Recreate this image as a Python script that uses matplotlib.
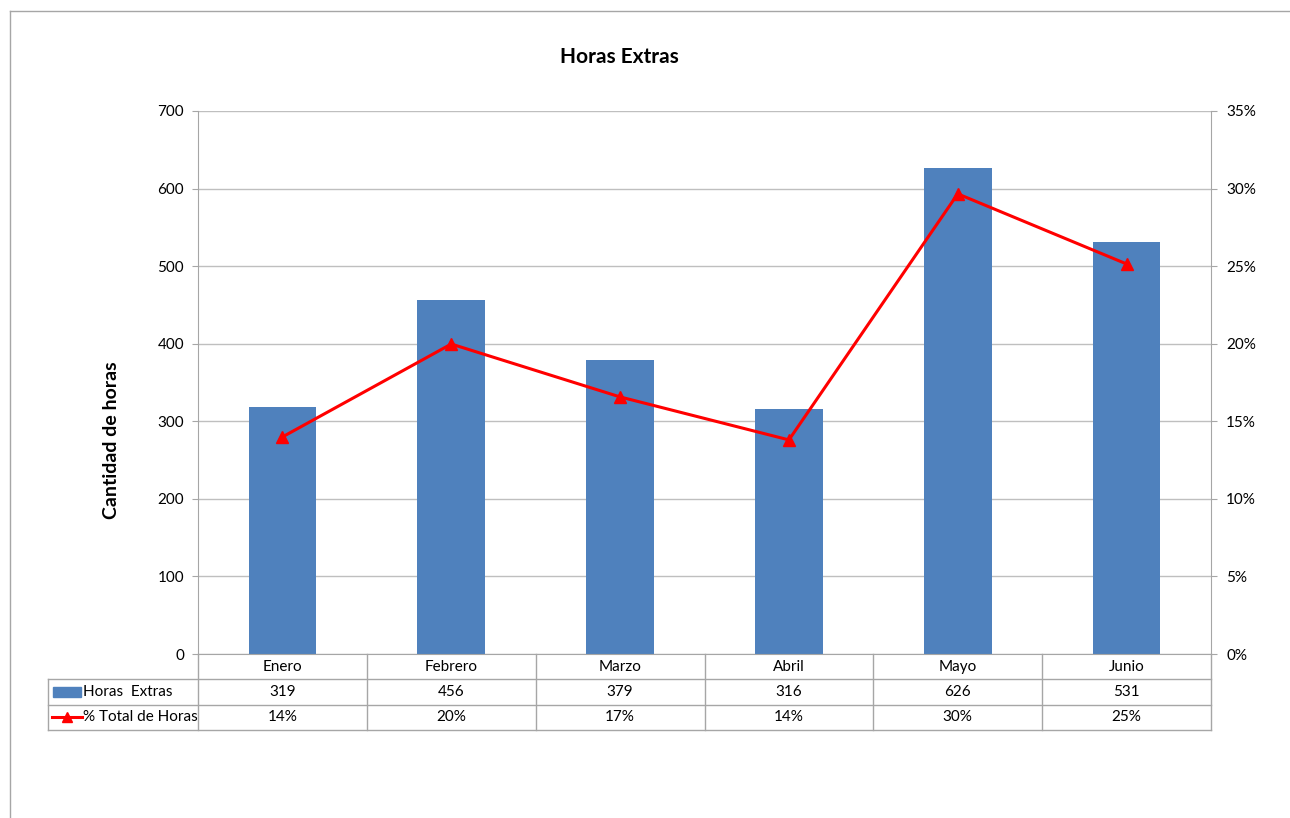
import matplotlib.pyplot as plt
import matplotlib.transforms as mtransforms
from matplotlib.patches import Rectangle
from matplotlib.lines import Line2D

plt.rcParams['font.family'] = ['Lato', 'DejaVu Sans']

meses = ['Enero', 'Febrero', 'Marzo', 'Abril', 'Mayo', 'Junio']
horas_extras = [319, 456, 379, 316, 626, 531]
pct_total = [0.1399, 0.1998, 0.1657, 0.1380, 0.2966, 0.2514]
nombres_series = ['Horas  Extras', '% Total de Horas']

azul = '#4F81BD'
rojo = '#FF0000'
gris = '#A6A6A6'
rejilla = '#BFBFBF'

fig = plt.figure(figsize=(12.9, 8.18), dpi=100)
ax = fig.add_axes([198/1290, 1 - 654/818, (1211 - 198)/1290, (654 - 111)/818])

# outer chart frame (partly cut off at right and bottom)
fig.add_artist(Line2D([10/1290, 10/1290], [0, 1 - 11/818], color=gris, lw=1))
fig.add_artist(Line2D([10/1290, 1], [1 - 11/818, 1 - 11/818], color=gris, lw=1))

x = list(range(len(meses)))
ax.bar(x, horas_extras, width=0.4, color=azul, zorder=2)
ax.set_xlim(-0.5, len(meses) - 0.5)
ax.set_ylim(0, 700)
ax.set_yticks(range(0, 701, 100))
ax.set_xticks([])
ax.yaxis.grid(True, color=rejilla, lw=1)
ax.set_axisbelow(True)
for lado in ['top', 'right']:
    ax.spines[lado].set_visible(False)
ax.spines['left'].set_color(gris)
ax.spines['bottom'].set_color(gris)
ax.tick_params(axis='y', length=4, color=gris, labelsize=11, pad=6)
ax.set_ylabel('Cantidad de horas', fontsize=14, fontweight='bold')
ax.yaxis.set_label_coords((120 - 198) / 1013, (654 - 440) / 543)

ax2 = ax.twinx()
ax2.plot(x, pct_total, color=rojo, lw=2.2, marker='^', ms=8, zorder=3)
ax2.set_ylim(0, 0.35)
ax2.set_yticks([i * 0.05 for i in range(8)])
ax2.set_yticklabels([f'{int(round(i * 5))}%' for i in range(8)])
for lado in ['top', 'left', 'bottom']:
    ax2.spines[lado].set_visible(False)
ax2.spines['right'].set_color(gris)
ax2.tick_params(axis='y', length=4, color=gris, labelsize=11, pad=7)

fig.text(619 / 1290, 1 - 57/818, 'Horas Extras', ha='center', va='center',
         fontsize=15, fontweight='bold')

# data table under the plot: x in data units, y in axes fraction
tr = mtransforms.blended_transform_factory(ax.transData, ax.transAxes)
fila = 25.3 / 543
x_leyenda = -0.5 - 150 / 169
linea = dict(color=gris, lw=1, transform=tr, clip_on=False)

for k in range(len(meses) + 1):
    ax.plot([k - 0.5, k - 0.5], [0, -3 * fila], **linea)
ax.plot([x_leyenda, x_leyenda], [-fila, -3 * fila], **linea)
ax.plot([x_leyenda, len(meses) - 0.5], [-fila, -fila], **linea)
ax.plot([x_leyenda, len(meses) - 0.5], [-2 * fila, -2 * fila], **linea)
ax.plot([x_leyenda, len(meses) - 0.5], [-3 * fila, -3 * fila], **linea)

for i, mes in enumerate(meses):
    ax.text(i, -0.5 * fila, mes, transform=tr, ha='center', va='center', fontsize=11)
    ax.text(i, -1.5 * fila, f'{horas_extras[i]}', transform=tr, ha='center', va='center', fontsize=11)
    ax.text(i, -2.5 * fila, f'{pct_total[i]:.0%}', transform=tr, ha='center', va='center', fontsize=11)

# legend keys inside the table
ax.add_patch(Rectangle((x_leyenda + 5 / 169, -1.5 * fila - 0.009), 28 / 169, 0.018,
                       transform=tr, color=azul, clip_on=False))
ax.text(x_leyenda + 35 / 169, -1.5 * fila, nombres_series[0], transform=tr,
        ha='left', va='center', fontsize=11)
ax.plot([x_leyenda + 4 / 169, x_leyenda + 34 / 169], [-2.5 * fila, -2.5 * fila],
        color=rojo, lw=2.2, transform=tr, clip_on=False)
ax.plot([x_leyenda + 19 / 169], [-2.5 * fila], marker='^', ms=7, color=rojo,
        transform=tr, clip_on=False)
ax.text(x_leyenda + 35 / 169, -2.5 * fila, nombres_series[1], transform=tr,
        ha='left', va='center', fontsize=11)

fig.savefig('out.png', dpi=100)
